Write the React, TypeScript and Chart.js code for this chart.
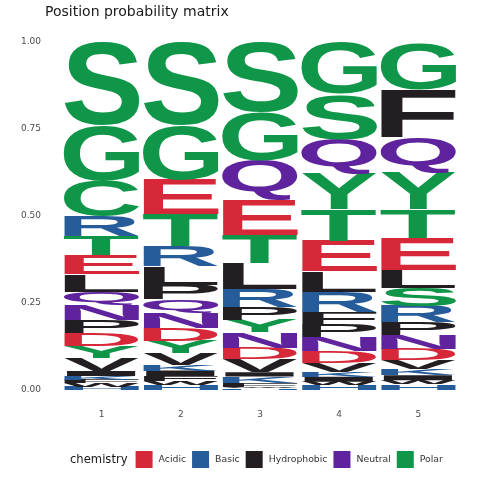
import React, { useEffect, useRef } from "react";
import { Chart, registerables } from "chart.js";

Chart.register(...registerables);

const positions = ["1", "2", "3", "4", "5"];
const yTickValues = [0, 0.25, 0.5, 0.75, 1];
const yTickLabels = ["0.00", "0.25", "0.50", "0.75", "1.00"];

// letters listed from top of stack to bottom
const pos1Letters = ["S", "G", "C", "R", "T", "E", "L", "Q", "N", "P", "D", "Y", "V", "I", "K", "F", "W", "H"];
const pos1Probs = [0.24, 0.158, 0.103, 0.057, 0.055, 0.055, 0.049, 0.04, 0.043, 0.037, 0.037, 0.034, 0.037, 0.015, 0.011, 0.01, 0.01, 0.009];

const pos2Letters = ["S", "G", "E", "T", "R", "L", "P", "Q", "N", "D", "Y", "V", "K", "I", "F", "W", "H"];
const pos2Probs = [0.24, 0.155, 0.1, 0.092, 0.058, 0.052, 0.043, 0.037, 0.046, 0.037, 0.035, 0.032, 0.017, 0.016, 0.014, 0.012, 0.014];

const pos3Letters = ["S", "G", "Q", "E", "T", "L", "R", "P", "Y", "N", "D", "V", "I", "K", "F", "W", "H"];
const pos3Probs = [0.2, 0.14, 0.115, 0.1, 0.08, 0.075, 0.052, 0.037, 0.035, 0.045, 0.032, 0.038, 0.012, 0.018, 0.012, 0.004, 0.005];

const pos4Letters = ["G", "S", "Q", "Y", "T", "E", "L", "R", "F", "P", "N", "D", "V", "K", "I", "W", "H"];
const pos4Probs = [0.148, 0.13, 0.098, 0.103, 0.09, 0.088, 0.06, 0.057, 0.035, 0.038, 0.04, 0.032, 0.027, 0.014, 0.014, 0.01, 0.014];

const pos5Letters = ["G", "F", "Q", "Y", "T", "E", "L", "S", "R", "P", "N", "D", "V", "K", "I", "W", "H"];
const pos5Probs = [0.133, 0.138, 0.1, 0.105, 0.082, 0.092, 0.052, 0.052, 0.046, 0.037, 0.04, 0.032, 0.026, 0.017, 0.015, 0.012, 0.016];

const chemistryGroups = ["Acidic", "Basic", "Hydrophobic", "Neutral", "Polar"];
const chemistryColors = ["#D62839", "#255C99", "#221E22", "#5E239D", "#109648"];
const chemistryLetters = ["DE", "KRH", "AVLIPWFM", "QN", "GSTYC"];

const allLetters = [pos1Letters, pos2Letters, pos3Letters, pos4Letters, pos5Letters];
const allProbs = [pos1Probs, pos2Probs, pos3Probs, pos4Probs, pos5Probs];

function colorOf(letter: string): string {
  for (let i = 0; i < chemistryLetters.length; i++) {
    if (chemistryLetters[i].includes(letter)) return chemistryColors[i];
  }
  return "#888";
}

const SANS = "'DejaVu Sans', Verdana, sans-serif";
const LETTER_FONT = "bold 100px 'Liberation Sans', Arial, Helvetica, sans-serif";

const logoPlugin = {
  id: "logoLetters",
  afterDatasetsDraw(chart: any) {
    const ctx = chart.ctx as CanvasRenderingContext2D;
    chart.data.datasets.forEach((ds: any, di: number) => {
      const meta = chart.getDatasetMeta(di);
      meta.data.forEach((el: any, i: number) => {
        const letter = ds.letters[i];
        if (!letter) return;
        const { x, y, base, width } = el.getProps(["x", "y", "base", "width"], true);
        const top = Math.min(y, base);
        const h = Math.abs(base - y);
        if (h <= 0.1) return;
        const left = x - width / 2;
        ctx.save();
        ctx.font = LETTER_FONT;
        ctx.textAlign = "left";
        ctx.textBaseline = "alphabetic";
        const m = ctx.measureText(letter);
        const gw = m.actualBoundingBoxLeft + m.actualBoundingBoxRight;
        const gh = m.actualBoundingBoxAscent + m.actualBoundingBoxDescent;
        ctx.translate(left, top);
        ctx.scale(width / gw, h / gh);
        ctx.fillStyle = colorOf(letter);
        ctx.fillText(letter, m.actualBoundingBoxLeft, m.actualBoundingBoxAscent);
        ctx.restore();
      });
    });
  },
};

const decorPlugin = {
  id: "decor",
  afterDraw(chart: any) {
    const ctx = chart.ctx as CanvasRenderingContext2D;
    ctx.save();
    // title
    ctx.fillStyle = "#1a1a1a";
    ctx.font = `14px ${SANS}`;
    ctx.textAlign = "left";
    ctx.textBaseline = "middle";
    ctx.fillText("Position probability matrix", 45, 12);
    // legend
    const cy = 459.5;
    let x = 70;
    ctx.font = `11.6px ${SANS}`;
    ctx.fillStyle = "#1a1a1a";
    ctx.fillText("chemistry", x, cy);
    x += ctx.measureText("chemistry").width + 8;
    ctx.font = `9.3px ${SANS}`;
    chemistryGroups.forEach((g, i) => {
      ctx.fillStyle = chemistryColors[i];
      ctx.fillRect(x, cy - 8.5, 17, 17);
      x += 17 + 6;
      ctx.fillStyle = "#333333";
      ctx.fillText(g, x, cy);
      x += ctx.measureText(g).width + 6;
    });
    ctx.restore();
  },
};

function buildDatasets() {
  const maxLen = Math.max(...allLetters.map((l) => l.length));
  const datasets: any[] = [];
  for (let k = 0; k < maxLen; k++) {
    const data: number[] = [];
    const letters: string[] = [];
    for (let p = 0; p < positions.length; p++) {
      const L = allLetters[p];
      const P = allProbs[p];
      const idx = L.length - 1 - k; // bottom first
      if (idx >= 0) {
        data.push(P[idx]);
        letters.push(L[idx]);
      } else {
        data.push(0);
        letters.push("");
      }
    }
    datasets.push({
      label: `layer${k}`,
      data,
      letters,
      backgroundColor: "rgba(0,0,0,0)",
      borderWidth: 0,
      barPercentage: 0.955,
      categoryPercentage: 1,
    });
  }
  return datasets;
}

export default function App() {
  const ref = useRef<HTMLCanvasElement | null>(null);
  useEffect(() => {
    if (!ref.current) return;
    const chart = new Chart(ref.current, {
      type: "bar",
      data: { labels: positions, datasets: buildDatasets() },
      options: {
        animation: false,
        responsive: true,
        maintainAspectRatio: false,
        layout: { padding: { left: 0, top: 42, right: 22, bottom: 60 } },
        plugins: {
          legend: { display: false },
          title: { display: false },
          tooltip: { enabled: false },
        },
        scales: {
          x: {
            stacked: true,
            grid: { display: false, drawTicks: false },
            border: { display: false },
            ticks: { color: "#4D4D4D", font: { family: SANS, size: 9 }, padding: 19 },
            afterFit: (s: any) => { s.height = 30; },
          },
          y: {
            stacked: true,
            min: 0,
            max: 1,
            grid: { display: false, drawTicks: false },
            border: { display: false },
            afterBuildTicks: (s: any) => { s.ticks = yTickValues.map((v) => ({ value: v })); },
            ticks: {
              color: "#4D4D4D",
              font: { family: SANS, size: 9 },
              padding: 21,
              callback: (v: any) => {
                const i = yTickValues.indexOf(Number(v));
                return i >= 0 ? yTickLabels[i] : "";
              },
            },
            afterFit: (s: any) => { s.width = 62; },
          },
        },
      },
      plugins: [logoPlugin, decorPlugin],
    });
    return () => chart.destroy();
  }, []);
  return (
    <div style={{ position: "fixed", left: 0, top: 0, width: 480, height: 480, background: "#fff" }}>
      <canvas ref={ref} />
    </div>
  );
}
